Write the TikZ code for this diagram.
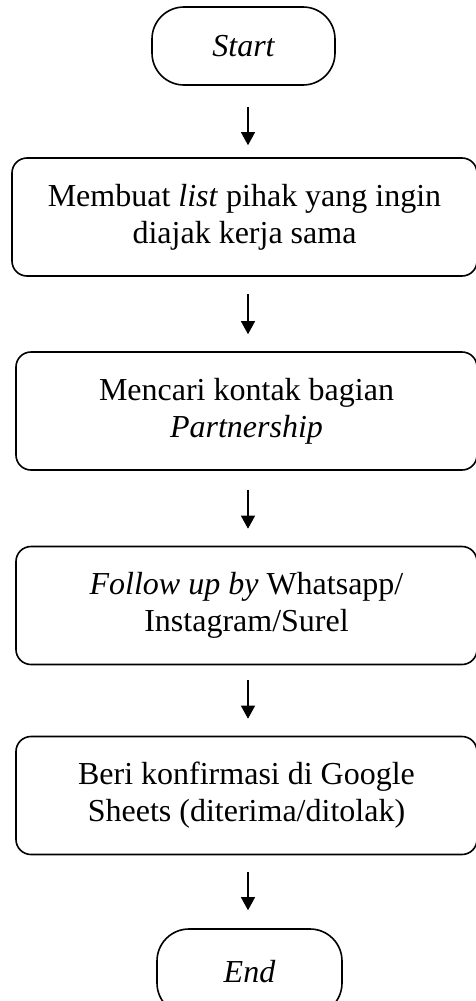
\documentclass[tikz,border=0pt]{standalone}
\usepackage{fontspec}
\setmainfont{Liberation Serif}
\usetikzlibrary{arrows.meta}
\begin{document}
\begin{tikzpicture}[x=1pt,y=-1pt,
 term/.style={draw, line width=1.6pt, rounded corners=32pt, minimum width=183pt, minimum height=78pt, inner sep=0pt, font=\fontsize{32}{37}\selectfont\itshape},
 proc/.style={draw, line width=1.6pt, rounded corners=15pt, minimum height=118pt, inner sep=0pt, align=center, font=\fontsize{32}{37}\selectfont},
 flow/.style={line width=1.1pt, -{Triangle[width=14pt,length=13pt]}}]
\useasboundingbox (0,0) rectangle (476,1001);
\coordinate (ax) at (248,0);
\node[term] (start) at (243.5,46) {Start};
\node[proc, minimum width=465pt] (b1) at (244.5,217) {Membuat \textit{list} pihak yang ingin\\diajak kerja sama};
\node[proc, minimum width=461pt] (b2) at (246.5,411) {Mencari kontak bagian\\\textit{Partnership}};
\node[proc, minimum width=461pt] (b3) at (246.5,605.5) {\textit{Follow up by} Whatsapp/\\Instagram/Surel};
\node[proc, minimum width=461pt] (b4) at (246.5,795.5) {Beri konfirmasi di Google\\Sheets (diterima/ditolak)};
\node[term, minimum width=185pt, minimum height=86pt] (end) at (249.5,972) {End};
\draw[flow, shorten <=21pt, shorten >=12pt] (start.south -| ax) -- (b1.north -| ax);
\draw[flow, shorten <=17pt, shorten >=17pt] (b1.south -| ax) -- (b2.north -| ax);
\draw[flow, shorten <=19pt, shorten >=17pt] (b2.south -| ax) -- (b3.north -| ax);
\draw[flow, shorten <=15pt, shorten >=17pt] (b3.south -| ax) -- (b4.north -| ax);
\draw[flow, shorten <=17pt, shorten >=18pt] (b4.south -| ax) -- (end.north -| ax);
\end{tikzpicture}
\end{document}
